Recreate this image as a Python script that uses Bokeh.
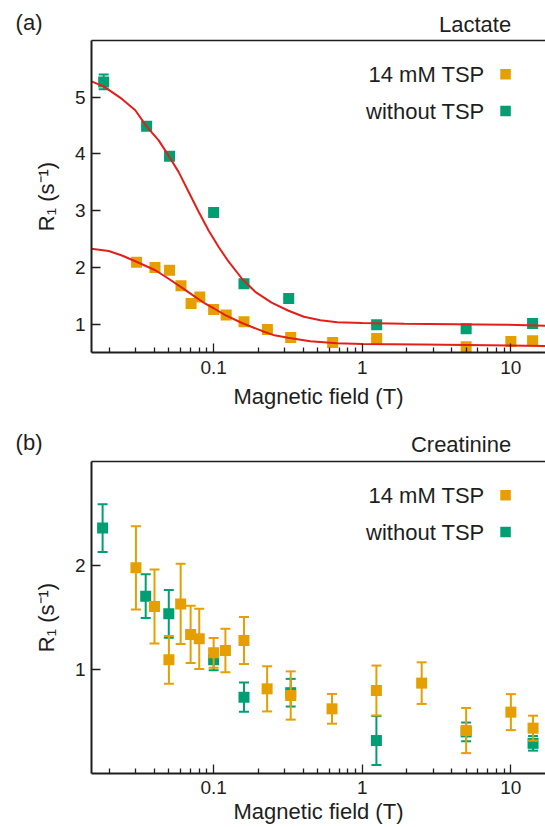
from bokeh.plotting import figure
from bokeh.models import Range1d, LinearScale, FixedTicker, LogAxis
from bokeh.layouts import column
from bokeh.core.properties import value
from bokeh.embed import file_html
from bokeh.resources import INLINE

# ---------------- data ----------------
# Panel (a) Lactate
lac_tsp_x = [0.0303, 0.0403, 0.0505, 0.0603, 0.0705, 0.0807, 0.1, 0.1214, 0.16, 0.23, 0.33, 0.632, 1.25, 5.0, 10.0, 14.0]
lac_tsp_y = [2.09, 2.0, 1.95, 1.675, 1.365, 1.48, 1.26, 1.16, 1.04, 0.905, 0.765, 0.675, 0.745, 0.60, 0.695, 0.705]
lac_tsp_err = [0.0] * 16
lac_no_x = [0.0182, 0.0354, 0.0505, 0.1, 0.16, 0.32, 1.25, 5.0, 14.0]
lac_no_y = [5.27, 4.49, 3.96, 2.97, 1.71, 1.45, 0.99, 0.92, 1.01]
lac_no_err = [0.13, 0.0, 0.0, 0.0, 0.0, 0.0, 0.0, 0.0, 0.0]

# fitted curves
fit_no_x = [0.01503, 0.0182, 0.02415, 0.0297, 0.03524, 0.04266, 0.04977, 0.05821, 0.06792, 0.07925,
            0.09247, 0.1081, 0.1262, 0.1552, 0.1905, 0.2455, 0.3162, 0.4046, 0.5236, 0.6776,
            1.0, 1.91, 4.15, 9.02, 17.2]
fit_no_y = [5.28, 5.19, 4.97, 4.77, 4.49, 4.24, 3.97, 3.68, 3.33, 2.98,
            2.65, 2.36, 2.10, 1.80, 1.57, 1.38, 1.24, 1.13, 1.07, 1.035,
            1.018, 1.006, 1.0, 0.99, 0.97]
fit_tsp_x = [0.01503, 0.01968, 0.02415, 0.0302, 0.04055, 0.04977, 0.0597, 0.07145, 0.0879, 0.1,
             0.1197, 0.1552, 0.2113, 0.2512, 0.3162, 0.4467, 0.6761, 1.0, 2.512, 7.08, 17.2]
fit_tsp_y = [2.33, 2.29, 2.21, 2.10, 1.95, 1.80, 1.66, 1.52, 1.36, 1.28,
             1.16, 1.02, 0.88, 0.81, 0.76, 0.70, 0.665, 0.65, 0.64, 0.63, 0.615]

# Panel (b) Creatinine
cre_tsp_x = [0.030, 0.040, 0.050, 0.060, 0.070, 0.080, 0.100, 0.120, 0.160, 0.229, 0.33, 0.626, 1.245, 2.51, 5.0, 10.0, 14.1]
cre_tsp_y = [1.978, 1.606, 1.093, 1.631, 1.337, 1.295, 1.160, 1.183, 1.279, 0.814, 0.750, 0.622, 0.798, 0.869, 0.413, 0.590, 0.436]
cre_tsp_err = [0.40, 0.355, 0.23, 0.385, 0.275, 0.29, 0.143, 0.21, 0.225, 0.217, 0.232, 0.143, 0.24, 0.20, 0.217, 0.173, 0.12]
cre_no_x = [0.0179, 0.0349, 0.0499, 0.1, 0.16, 0.33, 1.245, 5.0, 14.1]
cre_no_y = [2.36, 1.705, 1.535, 1.093, 0.734, 0.777, 0.317, 0.40, 0.29]
cre_no_err = [0.23, 0.21, 0.23, 0.10, 0.14, 0.133, 0.235, 0.09, 0.07]

legend_labels = ["14 mM TSP", "without TSP"]
x_ticks = [0.1, 1, 10]
x_tick_labels = ["0.1", "1", "10"]
x_minor_ticks = [m * 10.0 ** e for e in (-2, -1, 0, 1) for m in range(2, 10)]
y_ticks_a = [1, 2, 3, 4, 5]
y_ticks_b = [1, 2]

# ---------------- style / layout ----------------
ORANGE = "#E69F00"
GREEN = "#009E73"
RED = "#E41F1A"
INK = "#1e1e1e"
FONT = "Liberation Sans"
X_LO, X_HI = 0.01507, 17.1
W = 545
LEFT = 91
FRAME_W = W - LEFT
HEAD_H = 36
TAG_MID = 11.1      # header: vertical middle of the "(a)" tag, px from header bottom
NAME_Y = 12.0       # header: text anchor of the panel name, px from header bottom
NAME_RIGHT = 419.7  # header: right end of the panel name, px from frame left
LEG_TEXT_X = 0.866  # legend positions as fractions of the frame
LEG_MARK_X = 0.912
LEG_Y = [0.892, 0.774]


def make_header(tag, name):
    h = figure(width=W, height=HEAD_H, x_range=Range1d(0, FRAME_W), y_range=Range1d(0, HEAD_H),
               output_backend="svg", toolbar_location=None,
               min_border_left=LEFT, min_border_right=0,
               min_border_top=0, min_border_bottom=0)
    h.title.visible = False
    h.xaxis.visible = False
    h.grid.visible = False
    h.outline_line_color = None
    h.background_fill_color = "white"
    h.border_fill_color = "white"
    ya = h.yaxis[0]
    ya.ticker = FixedTicker(ticks=[TAG_MID])
    ya.major_label_overrides = {TAG_MID: tag}
    ya.axis_line_color = None
    ya.major_tick_line_color = None
    ya.minor_tick_line_color = None
    ya.major_tick_out = 0
    ya.major_tick_in = 0
    ya.major_label_standoff = 49
    ya.major_label_text_font = FONT
    ya.major_label_text_font_size = "22px"
    ya.major_label_text_color = INK
    h.text(x=[NAME_RIGHT], y=[NAME_Y], text=[name], text_font=value(FONT), text_font_size="22px",
           text_color=INK, text_align="right", text_baseline="alphabetic")
    return h


def make_panel(height, top, bottom, y_lo, y_hi, y_ticks, xlabel_standoff, tick_standoff):
    p = figure(width=W, height=height, x_axis_type="log",
               x_range=Range1d(X_LO, X_HI), y_range=Range1d(y_lo, y_hi),
               output_backend="svg", toolbar_location=None,
               min_border_left=LEFT, min_border_right=0,
               min_border_top=top, min_border_bottom=bottom)
    p.title.visible = False
    p.outline_line_color = None
    p.grid.visible = False
    p.background_fill_color = "white"
    p.border_fill_color = "white"
    p.extra_x_ranges = {"fx": Range1d(0, 1)}
    p.extra_y_ranges = {"fy": Range1d(0, 1)}
    p.extra_x_scales = {"fx": LinearScale()}
    p.extra_y_scales = {"fy": LinearScale()}

    xa = p.xaxis[0]
    xa.ticker = FixedTicker(ticks=x_ticks, minor_ticks=x_minor_ticks)
    xa.major_label_overrides = {t: l for t, l in zip(x_ticks, x_tick_labels)}
    xa.axis_label = "Magnetic field (T)"
    xa.axis_label_standoff = xlabel_standoff
    xa.major_label_standoff = tick_standoff

    ya = p.yaxis[0]
    ya.ticker = FixedTicker(ticks=y_ticks)
    ya.axis_label = "R\u2081 (s\u207b\u00b9)"
    ya.axis_label_standoff = 13
    ya.minor_tick_line_color = None
    ya.major_label_standoff = 6

    for ax in (xa, ya):
        ax.axis_line_color = INK
        ax.axis_line_width = 2
        ax.major_tick_in = 9
        ax.major_tick_out = 0
        ax.minor_tick_in = 5
        ax.minor_tick_out = 0
        ax.major_tick_line_color = INK
        ax.major_tick_line_width = 1.3
        ax.minor_tick_line_width = 1.3
        ax.major_label_text_font = FONT
        ax.major_label_text_font_size = "19px"
        ax.major_label_text_color = INK
        ax.axis_label_text_font = FONT
        ax.axis_label_text_font_size = "22px"
        ax.axis_label_text_font_style = "normal"
        ax.axis_label_text_color = INK
    xa.minor_tick_line_color = INK

    top_axis = LogAxis(ticker=FixedTicker(ticks=[]), axis_line_color=INK, axis_line_width=1.3,
                       major_tick_line_color=None, minor_tick_line_color=None,
                       major_label_text_font_size="0px", major_label_standoff=0,
                       major_tick_out=0, minor_tick_out=0)
    p.add_layout(top_axis, "above")

    # legend (marker to the right of its text)
    p.text(x=[LEG_TEXT_X] * 2, y=LEG_Y, text=legend_labels,
           x_range_name="fx", y_range_name="fy",
           text_font=value(FONT), text_font_size="22px", text_color=INK,
           text_align="right", text_baseline="alphabetic")
    p.scatter(x=[LEG_MARK_X] * 2, y=LEG_Y, marker="square", size=10.5,
              fill_color=[ORANGE, GREEN], line_color=None,
              x_range_name="fx", y_range_name="fy")
    return p


def add_series(p, xs, ys, errs, color):
    lo = [y - e for y, e in zip(ys, errs)]
    hi = [y + e for y, e in zip(ys, errs)]
    p.segment(x0=xs, y0=lo, x1=xs, y1=hi, line_color=color, line_width=2)
    p.scatter(x=xs, y=lo, marker="dash", size=10, line_color=color, line_width=2)
    p.scatter(x=xs, y=hi, marker="dash", size=10, line_color=color, line_width=2)
    p.scatter(x=xs, y=ys, marker="square", size=11, fill_color=color, line_color=None)


ha = make_header("(a)", "Lactate")
pa = make_panel(420 - HEAD_H, 40 - HEAD_H, 68, 0.5, 6.0, y_ticks_a, 7, 8)
add_series(pa, lac_no_x, lac_no_y, lac_no_err, GREEN)
add_series(pa, lac_tsp_x, lac_tsp_y, lac_tsp_err, ORANGE)
pa.line(fit_no_x, fit_no_y, line_color=RED, line_width=2)
pa.line(fit_tsp_x, fit_tsp_y, line_color=RED, line_width=2)

hb = make_header("(b)", "Creatinine")
pb = make_panel(407 - HEAD_H, 41 - HEAD_H, 54, 0.0, 3.0, y_ticks_b, 2, 7)
add_series(pb, cre_no_x, cre_no_y, cre_no_err, GREEN)
add_series(pb, cre_tsp_x, cre_tsp_y, cre_tsp_err, ORANGE)

layout = column(ha, pa, hb, pb, spacing=0)
open("out.html", "w").write(file_html(layout, INLINE))
